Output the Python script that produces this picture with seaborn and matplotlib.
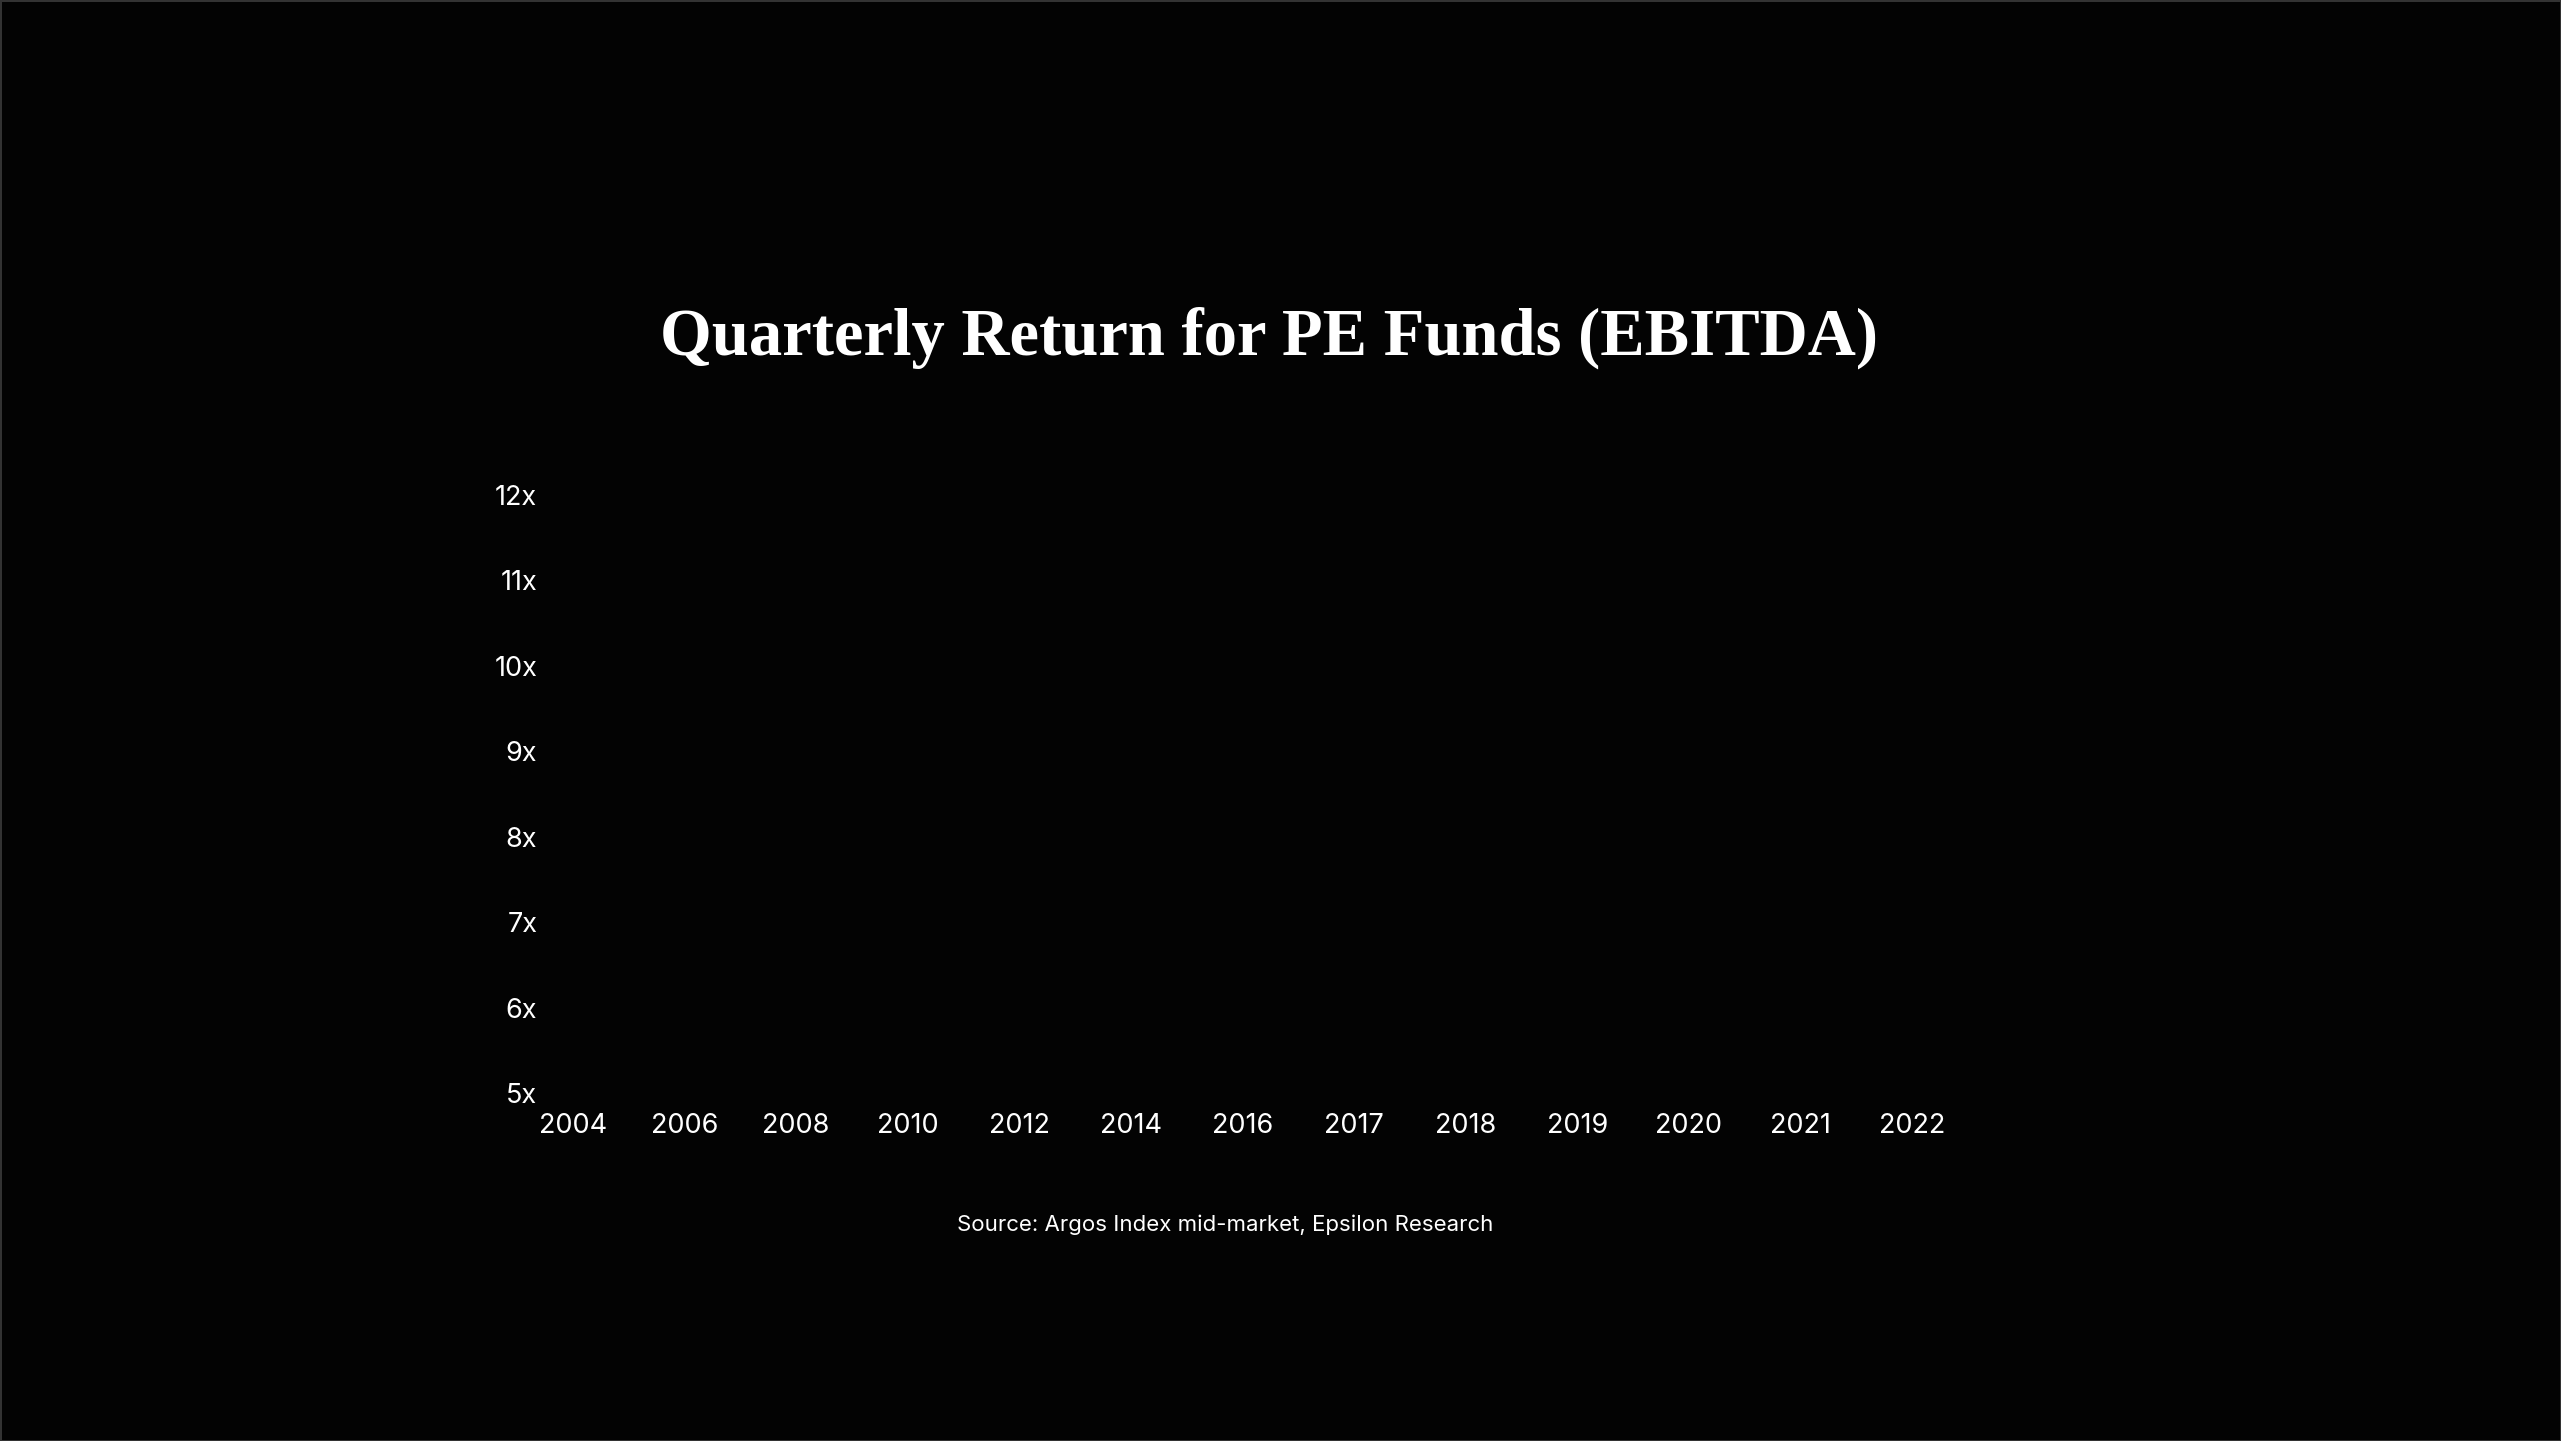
import matplotlib
matplotlib.use("Agg")
import matplotlib.pyplot as plt
import seaborn as sns
import numpy as np

# chart data: categories and axis ticks (the series itself draws nothing)
years = ["2004", "2006", "2008", "2010", "2012", "2014", "2016",
         "2017", "2018", "2019", "2020", "2021", "2022"]
multiples = [np.nan] * len(years)
y_ticks = [5, 6, 7, 8, 9, 10, 11, 12]
y_tick_labels = [f"{v}x" for v in y_ticks]

title = "Quarterly Return for PE Funds (EBITDA)"
source = "Source: Argos Index mid-market, Epsilon Research"

bg = "#030303"
fg = "#ffffff"

sns.set_theme(style="dark")
plt.rcParams["font.family"] = ["Inter", "DejaVu Sans"]

fig = plt.figure(figsize=(25.61, 14.41), dpi=100, facecolor=bg,
                 edgecolor="#333333", linewidth=2)
ax = fig.add_axes([0.2136, 0.2415, 0.7567 - 0.2136, 0.6565 - 0.2415])
ax.set_facecolor(bg)

x = np.arange(len(years))
sns.lineplot(x=x, y=multiples, ax=ax, color=fg)

ax.set_xlim(-0.233, len(years) - 1 + 0.233)
ax.set_ylim(5, 12)
ax.set_xticks(x)
ax.set_xticklabels(years)
ax.set_yticks(y_ticks)
ax.set_yticklabels(y_tick_labels)
ax.tick_params(axis="x", length=0, pad=14.5, labelsize=19.5, labelcolor=fg)
ax.tick_params(axis="y", length=0, pad=7, labelsize=19.5, labelcolor=fg)
ax.grid(False)
for s in ax.spines.values():
    s.set_visible(False)
ax.set_xlabel("")
ax.set_ylabel("")

fig.text(0.4955, 0.7655, title, ha="center", va="center", color=fg,
         fontsize=48, fontweight="bold", family=["Liberation Serif", "DejaVu Serif"])
fig.text(0.4785, 0.150, source, ha="center", va="center", color=fg, fontsize=16)

fig.savefig("out.png", dpi=100, facecolor=bg, edgecolor=fig.get_edgecolor())
